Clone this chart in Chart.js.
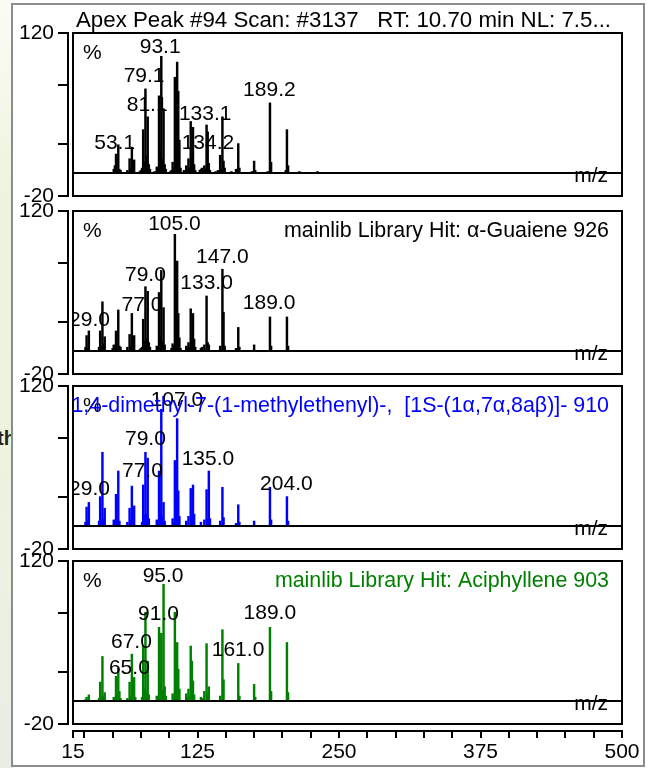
<!DOCTYPE html>
<html>
<head>
<meta charset="utf-8">
<script src="https://cdn.jsdelivr.net/npm/chart.js@4.4.1/dist/chart.umd.min.js"></script>
<style>
  body { margin: 0; width: 657px; height: 768px; position: relative; overflow: hidden; background: #fff; }
  #slide { position: absolute; left: 0; top: 0; width: 14px; height: 768px;
           background: linear-gradient(#fbfcf6, #eef4de 25%, #eef3e0 60%, #e9ede5); }
  #slideText { position: absolute; left: -3px; top: 427px; font: bold 20px 'Liberation Sans', Arial, sans-serif; color: #222; }
  #frame { position: absolute; left: 11px; top: 3px; width: 634px; height: 764px; box-sizing: border-box;
           border: 2px solid #8c8c8c; background: #fff; }
  canvas { position: absolute; left: 0; }
</style>
</head>
<body>
<div id="slide"></div>
<div id="slideText">th</div>
<div id="frame"></div>
<canvas id="p1" width="657" height="209" style="top:0px"></canvas>
<canvas id="p2" width="657" height="189" style="top:198px"></canvas>
<canvas id="p3" width="657" height="189" style="top:373px"></canvas>
<canvas id="p4" width="657" height="220" style="top:548px"></canvas>
<script>
const FONT_FAMILY = "'Liberation Sans', Arial, sans-serif";
const FONT_SIZE = 21;
const HEADING_SIZE = 21.4;
const TITLE_SIZE = 22.3;

// axes
const xMin = 15, xMax = 500;
const yMin = -20, yMax = 120;
const yTickValues = [-20, 0, 25, 50, 75, 100, 120];
const yTickLabels = [-20, 120];
const xTickValues = [15, 25, 50, 75, 100, 125, 150, 175, 200, 225, 250, 275, 300, 325, 350, 375, 400, 425, 450, 475, 500];
const xTickLabels = [15, 125, 250, 375, 500];

const titleText = 'Apex Peak #94 Scan: #3137   RT: 10.70 min NL: 7.5...';

// panel 1 - measured scan
const scanMz  = [51, 52, 53, 54, 55, 56, 57, 63, 65, 66, 67, 68, 69, 74, 75, 76, 77, 78, 79, 80, 81, 82, 83,
                 87, 89, 90, 91, 92, 93, 94, 95, 96, 97, 101, 102, 103, 104, 105, 106, 107, 108, 109, 110,
                 113, 115, 116, 117, 118, 119, 120, 121, 122, 123, 127, 128, 129, 131, 132, 133, 134, 135, 136,
                 141, 143, 145, 146, 147, 148, 149, 155, 159, 161, 162, 173, 175, 176, 187, 189, 190, 203, 204, 205, 215, 231];
const scanInt = [3, 6, 16, 3, 24, 3, 2, 2, 12, 4, 22, 5, 11, 1, 2, 4, 37, 9, 72, 14, 48, 7, 3,
                 1, 5, 3, 66, 18, 100, 12, 55, 7, 3, 1, 2, 9, 4, 82, 13, 95, 70, 28, 4,
                 2, 6, 3, 12, 4, 44, 12, 39, 7, 2, 2, 3, 4, 6, 3, 41, 35, 8, 2,
                 1, 2, 15, 3, 48, 10, 4, 1, 3, 25, 4, 1, 10, 2, 1, 60, 9, 2, 37, 6, 1, 1];
const scanLabels = ['53.1', '79.1', '81.1', '93.1', '133.1', '134.2', '189.2'];
const scanLabelX = [51.8, 77.8, 80.5, 92.0, 131.8, 134.2, 188.5];
const scanLabelY = [20.7, 77.6, 53.4, 102.6, 45, 20.7, 65.5];

// panel 2 - library hit alpha-guaiene
const guaMz  = [26, 27, 28, 29, 38, 39, 40, 41, 42, 43, 50, 51, 52, 53, 54, 55, 56, 57, 63, 65, 66, 67, 68, 69,
                74, 75, 76, 77, 78, 79, 80, 81, 82, 83, 89, 90, 91, 92, 93, 94, 95, 96,
                102, 103, 104, 105, 106, 107, 108, 109, 110, 115, 116, 117, 118, 119, 120, 121, 122, 123,
                128, 129, 131, 133, 134, 135, 145, 147, 148, 149, 159, 161, 162, 175, 189, 190, 204, 205];
const guaInt = [3, 13, 3, 17, 3, 17, 4, 42, 6, 12, 2, 5, 3, 17, 4, 35, 4, 3, 3, 14, 4, 32, 8, 13,
                1, 2, 3, 27, 8, 55, 10, 51, 7, 3, 4, 3, 50, 12, 69, 8, 37, 5,
                2, 6, 4, 100, 14, 77, 32, 11, 2, 4, 2, 7, 3, 36, 8, 32, 10, 3,
                2, 3, 5, 47, 7, 5, 4, 70, 33, 4, 2, 20, 3, 5, 29, 4, 29, 4];
const guaLabels = ['29.0', '77.0', '79.0', '105.0', '133.0', '147.0', '189.0'];
const guaLabelX = [29.6, 76, 79, 104.6, 133, 146.9, 188.2];
const guaLabelY = [21, 33.9, 59.7, 103.7, 52.6, 75.5, 35.9];
const guaHeading = 'mainlib Library Hit: \u03b1-Guaiene 926';

// panel 3 - library hit azulene derivative
const azuMz  = [26, 27, 28, 29, 38, 39, 40, 41, 42, 43, 51, 52, 53, 54, 55, 56, 63, 65, 66, 67, 68, 69,
                76, 77, 78, 79, 80, 81, 82, 89, 90, 91, 92, 93, 94, 95, 96,
                103, 104, 105, 106, 107, 108, 109, 115, 117, 119, 120, 121, 122,
                128, 131, 133, 134, 135, 136, 145, 147, 148, 159, 161, 162, 175, 189, 190, 204, 205];
const azuInt = [3, 16, 4, 20, 4, 25, 5, 63, 6, 15, 5, 3, 27, 5, 47, 4, 3, 15, 5, 34, 7, 17,
                3, 35, 9, 63, 10, 58, 6, 5, 3, 47, 10, 100, 8, 20, 4,
                6, 3, 56, 10, 92, 30, 8, 4, 8, 32, 7, 35, 10,
                3, 5, 31, 6, 47, 6, 4, 33, 7, 2, 18, 3, 4, 33, 5, 25, 4];
const azuLabels = ['29.0', '77.0', '79.0', '107.0', '135.0', '204.0'];
const azuLabelX = [29.6, 76.3, 79, 106.8, 134.2, 203.5];
const azuLabelY = [26, 41.6, 69, 102.8, 52, 31];
const azuHeading = 'Azulene, 1,2,3,5,6,7,8,8a-octahydro-1,4-dimethyl-7-(1-methylethenyl)-,  [1S-(1\u03b1,7\u03b1,8a\u03b2)]- 910';

// panel 4 - library hit aciphyllene
const aciMz  = [26, 27, 29, 38, 39, 40, 41, 42, 43, 51, 53, 54, 55, 56, 57, 63, 65, 66, 67, 68, 69, 70,
                76, 77, 78, 79, 80, 81, 82, 89, 90, 91, 92, 93, 94, 95, 96, 97,
                103, 104, 105, 106, 107, 108, 109, 115, 116, 117, 118, 119, 120, 121, 122,
                128, 129, 131, 133, 134, 135, 145, 147, 148, 161, 162, 175, 176, 189, 190, 204, 205];
const aciInt = [1, 3, 5, 2, 16, 3, 38, 4, 7, 3, 21, 4, 28, 8, 2, 2, 16, 4, 40, 10, 20, 3,
                3, 47, 10, 76, 8, 34, 5, 4, 3, 63, 14, 58, 9, 100, 12, 4,
                6, 3, 76, 18, 50, 27, 10, 6, 3, 10, 4, 47, 34, 17, 5,
                3, 2, 8, 49, 6, 12, 4, 61, 18, 32, 4, 14, 3, 63, 8, 50, 7];
const aciLabels = ['65.0', '67.0', '91.0', '95.0', '161.0', '189.0'];
const aciLabelX = [64.8, 66.6, 90.5, 94.6, 160.8, 188.9];
const aciLabelY = [23, 45, 69, 102, 38, 70];
const aciHeading = 'mainlib Library Hit: Aciphyllene 903';

function font(size) {
    return size + 'px ' + FONT_FAMILY;
}

// draws the panel box, peak labels and texts inside each panel
const panelText = {
    id: 'panelText',
    afterDatasetsDraw(chart, args, o) {
        const ctx = chart.ctx;
        const a = chart.chartArea;
        const xs = chart.scales.x;
        const ys = chart.scales.y;

        ctx.save();
        ctx.beginPath();
        ctx.rect(a.left, a.top, a.right - a.left, a.bottom - a.top);
        ctx.clip();
        ctx.font = font(FONT_SIZE);
        ctx.fillStyle = '#000';
        ctx.textBaseline = 'alphabetic';
        ctx.textAlign = 'center';
        o.labels.forEach((t, i) => {
            ctx.fillText(t, xs.getPixelForValue(o.labelX[i]), ys.getPixelForValue(o.labelY[i]));
        });
        ctx.textAlign = 'left';
        ctx.fillText('%', a.left + 10, a.top + 26);
        ctx.textAlign = 'right';
        ctx.fillText('m/z', a.right - 14, ys.getPixelForValue(0) + 9);
        if (o.heading) {
            ctx.font = font(HEADING_SIZE);
            ctx.fillStyle = o.headingColor;
            ctx.fillText(o.heading, a.right - 13, a.top + 26);
        }
        ctx.restore();

        ctx.save();
        ctx.strokeStyle = '#000';
        ctx.lineWidth = 2;
        ctx.strokeRect(a.left, a.top, a.right - a.left, a.bottom - a.top);
        if (o.title) {
            ctx.font = font(TITLE_SIZE);
            ctx.fillStyle = '#000';
            ctx.textAlign = 'center';
            ctx.fillText(o.title, (a.left + a.right) / 2 - 4, a.top - 6);
        }
        ctx.restore();
    }
};

// fixed sizes so every panel box lands on the same place
function fixWidth(w) {
    return s => { s.width = w; s.paddingTop = 0; s.paddingBottom = 0; };
}
function fixHeight(h) {
    return s => { s.height = h; s.paddingLeft = 0; s.paddingRight = 0; };
}

function buildPanel(id, p) {
    const scales = {
        x: {
            type: 'linear', position: 'bottom', min: xMin, max: xMax, offset: false, weight: 0,
            display: !!p.showX,
            afterFit: fixHeight(p.showX ? 7 : 0),
            ticks: { display: false },
            grid: { display: false, offset: false },
            border: { display: false }
        },
        y: {
            type: 'linear', position: 'left', min: yMin, max: yMax, weight: 0,
            afterBuildTicks: s => { s.ticks = yTickValues.map(v => ({ value: v })); },
            afterFit: fixWidth(5),
            ticks: { display: false },
            border: { display: false },
            grid: {
                drawTicks: false, lineWidth: 2,
                color: c => (c.tick && c.tick.value === 0) ? '#000' : 'rgba(0,0,0,0)'
            }
        },
        yAxis: {
            type: 'linear', position: 'left', min: yMin, max: yMax, weight: 1,
            afterBuildTicks: s => { s.ticks = yTickValues.map(v => ({ value: v })); },
            afterFit: fixWidth(68),
            border: { display: true, color: '#000', width: 2 },
            grid: { drawOnChartArea: false, drawTicks: true, tickLength: 10, color: '#000', lineWidth: 2 },
            ticks: {
                color: '#000', padding: 4, font: { family: FONT_FAMILY, size: FONT_SIZE },
                callback: v => yTickLabels.includes(v) ? String(v) : ''
            }
        }
    };
    if (p.showX) {
        scales.xAxis = {
            type: 'linear', position: 'bottom', min: xMin, max: xMax, offset: false, weight: 1,
            afterBuildTicks: s => { s.ticks = xTickValues.map(v => ({ value: v })); },
            afterFit: fixHeight(37),
            border: { display: true, color: '#000', width: 2 },
            grid: { drawOnChartArea: false, drawTicks: true, tickLength: 7, color: '#000', lineWidth: 2, offset: false },
            ticks: {
                color: '#000', padding: 2, autoSkip: false, maxRotation: 0,
                font: { family: FONT_FAMILY, size: FONT_SIZE },
                callback: v => xTickLabels.includes(v) ? String(v) : ''
            }
        };
    }

    return new Chart(document.getElementById(id), {
        type: 'bar',
        data: {
            datasets: [{
                data: p.mz.map((m, i) => ({ x: m, y: p.int[i] })),
                backgroundColor: p.color,
                barThickness: 1.8,
                grouped: false
            }]
        },
        options: {
            responsive: false,
            animation: false,
            layout: { padding: { top: p.padTop, right: 35, bottom: p.showX ? 0 : 13, left: 0 } },
            scales: scales,
            plugins: {
                legend: { display: false },
                tooltip: { enabled: false },
                panelText: {
                    labels: p.labels, labelX: p.labelX, labelY: p.labelY,
                    heading: p.heading, headingColor: p.headingColor, title: p.title
                }
            }
        },
        plugins: [panelText]
    });
}

buildPanel('p1', { mz: scanMz, int: scanInt, color: '#000', labels: scanLabels, labelX: scanLabelX, labelY: scanLabelY,
                   title: titleText, padTop: 33 });
buildPanel('p2', { mz: guaMz, int: guaInt, color: '#000', labels: guaLabels, labelX: guaLabelX, labelY: guaLabelY,
                   heading: guaHeading, headingColor: '#000', padTop: 13 });
buildPanel('p3', { mz: azuMz, int: azuInt, color: '#0000ff', labels: azuLabels, labelX: azuLabelX, labelY: azuLabelY,
                   heading: azuHeading, headingColor: '#0000ff', padTop: 13 });
buildPanel('p4', { mz: aciMz, int: aciInt, color: '#008000', labels: aciLabels, labelX: aciLabelX, labelY: aciLabelY,
                   heading: aciHeading, headingColor: '#008000', padTop: 13, showX: true });
</script>
</body>
</html>
